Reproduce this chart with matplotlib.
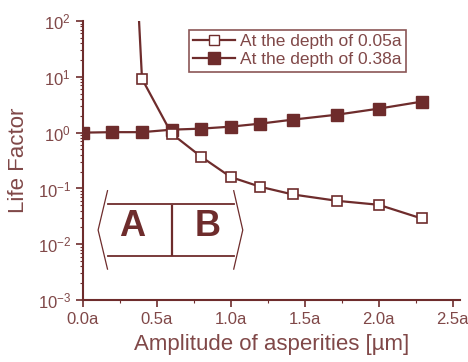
import matplotlib
matplotlib.use('Agg')
import matplotlib.pyplot as plt
from matplotlib.ticker import FixedLocator, FuncFormatter, LogLocator, NullFormatter
from matplotlib.lines import Line2D

# depth 0.05a (open squares); first x has no marker, curve rises above 100
X_SHALLOW = [0.38, 0.40, 0.60, 0.80, 1.00, 1.20, 1.42, 1.72, 2.00, 2.29]
Y_SHALLOW = [100, 9.2, 0.96, 0.37, 0.16, 0.107, 0.078, 0.060, 0.051, 0.029]
# depth 0.38a (filled squares)
X_DEEP = [0.0, 0.20, 0.40, 0.60, 0.80, 1.00, 1.20, 1.42, 1.72, 2.00, 2.29]
Y_DEEP = [1.0, 1.02, 1.02, 1.13, 1.18, 1.28, 1.45, 1.71, 2.10, 2.69, 3.59]
LABELS = ['At the depth of 0.05a', 'At the depth of 0.38a']

C = '#6e2c2c'
TC = '#804848'
plt.rcParams['font.family'] = ['Liberation Sans', 'DejaVu Sans']

fig = plt.figure(figsize=(4.68, 3.62), dpi=100)
ax = fig.add_axes([0.177, 0.171, 0.806, 0.771])

ax.plot(X_SHALLOW, Y_SHALLOW, color=C, lw=1.6, marker='s', ms=7,
        mfc='white', mec=C, mew=1.2, markevery=list(range(1, len(X_SHALLOW))),
        zorder=3)
ax.plot(X_DEEP, Y_DEEP, color=C, lw=1.6, marker='s', ms=8.5,
        mfc=C, mec=C, zorder=2)

ax.set_yscale('log')
ax.set_ylim(1e-3, 1e2)
ax.set_xlim(0, 2.55)
for s in ['top', 'right']:
    ax.spines[s].set_visible(False)
for s in ['left', 'bottom']:
    ax.spines[s].set_color(C)
    ax.spines[s].set_linewidth(1.5)

ax.xaxis.set_major_locator(FixedLocator([0, 0.5, 1.0, 1.5, 2.0, 2.5]))
ax.xaxis.set_minor_locator(FixedLocator([0.25, 0.75, 1.25, 1.75, 2.25]))
ax.xaxis.set_major_formatter(FuncFormatter(lambda v, p: f'{v:.1f}a'))
ax.yaxis.set_major_locator(LogLocator(base=10, numticks=10))
ax.yaxis.set_minor_locator(LogLocator(base=10, subs=range(2, 10), numticks=10))
ax.yaxis.set_minor_formatter(NullFormatter())
ax.tick_params(which='major', length=5, width=1.2, color=C, labelcolor=TC,
               labelsize=12)
ax.tick_params(which='minor', length=2.5, width=0.8, color=C)

ax.set_xlabel('Amplitude of asperities [\u00b5m]', fontsize=16, color=TC,
              labelpad=5)
ax.set_ylabel('Life Factor', fontsize=16, color=TC, labelpad=6)

handles = [Line2D([], [], color=C, lw=1.6, marker='s', ms=7, mfc='white', mec=C),
           Line2D([], [], color=C, lw=1.6, marker='s', ms=8.5, mfc=C, mec=C)]
leg = ax.legend(handles, LABELS, loc='upper right', bbox_to_anchor=(0.857, 0.968),
                borderaxespad=0, fontsize=12.5, frameon=True, fancybox=False,
                handlelength=2.4, handletextpad=0.3, borderpad=0.25,
                labelspacing=0.15, labelcolor=TC)
leg.get_frame().set_edgecolor(C)
leg.get_frame().set_linewidth(1.2)

# A | B bracket annotation
T = ax.transAxes
kw = dict(color=C, transform=T, clip_on=False)
ax.plot([0.0654, 0.0405, 0.0654], [0.392, 0.251, 0.111], lw=0.9, **kw)
ax.plot([0.400, 0.424, 0.400], [0.392, 0.251, 0.111], lw=0.9, **kw)
ax.plot([0.0654, 0.400], [0.344, 0.344], lw=1.3, **kw)
ax.plot([0.0654, 0.400], [0.158, 0.158], lw=1.3, **kw)
ax.plot([0.2366, 0.2366], [0.337, 0.161], lw=1.6, **kw)
ax.text(0.130, 0.262, 'A', transform=T, ha='center', va='center',
        fontsize=26, fontweight='bold', color=C)
ax.text(0.331, 0.262, 'B', transform=T, ha='center', va='center',
        fontsize=26, fontweight='bold', color=C)

fig.savefig('out.png', dpi=100)
